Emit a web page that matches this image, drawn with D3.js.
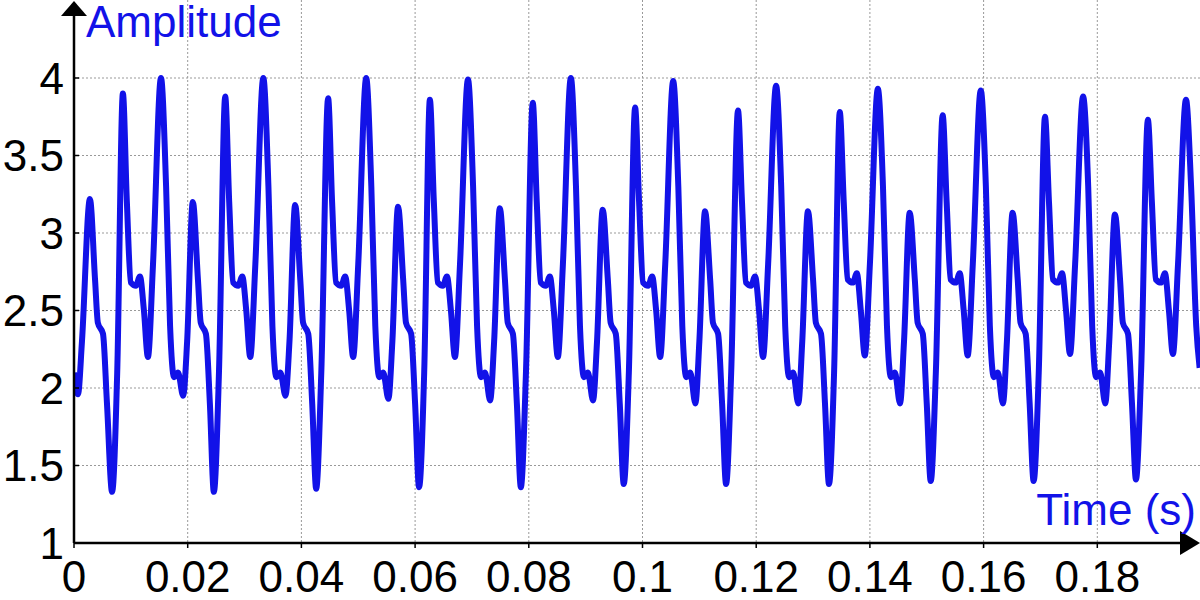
<!DOCTYPE html>
<html><head><meta charset="utf-8">
<script src="https://cdn.jsdelivr.net/npm/d3@7"></script>
<style>body{margin:0;background:#fff}svg{display:block;font-family:"Liberation Sans",Arial,sans-serif}</style>
</head><body><svg id="chart" width="1200" height="600"></svg>
<script>
// time in milliseconds
const timeMs = [
  0, 0.7, 1.4, 2.8, 3.7, 4.2, 5.1, 5.8, 6.7, 7.6,
  8.6, 9.3, 10.0, 10.9, 11.6, 12.3, 13.0, 13.9, 15.3, 16.2, 16.9, 17.6, 18.3, 19.2, 19.9, 20.9, 21.8, 22.3, 23.2, 23.9, 24.6, 25.5,
  26.6, 27.3, 28.0, 28.9, 29.6, 30.3, 31.0, 31.9, 33.3, 34.2, 34.9, 35.6, 36.3, 37.2, 37.9, 38.9, 39.8, 40.3, 41.2, 41.9, 42.6, 43.5,
  44.7, 45.4, 46.1, 47.0, 47.7, 48.4, 49.1, 50.0, 51.4, 52.3, 53.0, 53.7, 54.4, 55.3, 56.0, 57.0, 57.9, 58.4, 59.3, 60.0, 60.7, 61.6,
  62.6, 63.3, 64.0, 64.9, 65.6, 66.3, 67.0, 67.9, 69.3, 70.2, 70.9, 71.6, 72.3, 73.2, 73.9, 74.9, 75.8, 76.3, 77.2, 77.9, 78.6, 79.5,
  80.7, 81.4, 82.1, 83.0, 83.7, 84.4, 85.1, 86.0, 87.4, 88.3, 89.0, 89.7, 90.4, 91.3, 92.0, 93.0, 93.9, 94.4, 95.3, 96.0, 96.7, 97.6,
  98.7, 99.4, 100.1, 101.0, 101.7, 102.4, 103.1, 104.0, 105.4, 106.3, 107.0, 107.7, 108.4, 109.3, 110.0, 111.0, 111.9, 112.4, 113.3, 114.0, 114.7, 115.6,
  116.8, 117.5, 118.2, 119.1, 119.8, 120.5, 121.2, 122.1, 123.5, 124.4, 125.1, 125.8, 126.5, 127.4, 128.1, 129.1, 130.0, 130.5, 131.4, 132.1, 132.8, 133.7,
  134.7, 135.4, 136.1, 137.0, 137.7, 138.4, 139.1, 140.0, 141.4, 142.3, 143.0, 143.7, 144.4, 145.3, 146.0, 147.0, 147.9, 148.4, 149.3, 150.0, 150.7, 151.6,
  152.8, 153.5, 154.2, 155.1, 155.8, 156.5, 157.2, 158.1, 159.5, 160.4, 161.1, 161.8, 162.5, 163.4, 164.1, 165.1, 166.0, 166.5, 167.4, 168.1, 168.8, 169.7,
  170.8, 171.5, 172.2, 173.1, 173.8, 174.5, 175.2, 176.1, 177.5, 178.4, 179.1, 179.8, 180.5, 181.4, 182.1, 183.1, 184.0, 184.5, 185.4, 186.1, 186.8, 187.7,
  188.9, 189.6, 190.3, 191.2, 191.9, 192.6, 193.3, 194.2, 195.6, 196.5, 197.4, 198.0
];
const amplitude = [
  2.10, 1.96, 2.30, 3.22, 2.70, 2.42, 2.35, 1.90, 1.33, 2.10,
  3.90, 3.20, 2.68, 2.66, 2.72, 2.50, 2.20, 2.80, 4.00, 3.30, 2.40, 2.07, 2.10, 1.95, 2.30, 3.20, 2.70, 2.42, 2.35, 1.90, 1.33, 2.10,
  3.88, 3.20, 2.68, 2.66, 2.72, 2.50, 2.20, 2.80, 4.00, 3.30, 2.40, 2.07, 2.10, 1.95, 2.30, 3.18, 2.70, 2.42, 2.35, 1.90, 1.35, 2.10,
  3.87, 3.20, 2.68, 2.66, 2.72, 2.50, 2.20, 2.80, 4.00, 3.30, 2.40, 2.07, 2.10, 1.93, 2.30, 3.17, 2.70, 2.42, 2.35, 1.90, 1.36, 2.10,
  3.86, 3.20, 2.68, 2.66, 2.72, 2.50, 2.20, 2.80, 3.99, 3.30, 2.40, 2.07, 2.10, 1.92, 2.30, 3.16, 2.70, 2.42, 2.35, 1.90, 1.36, 2.10,
  3.84, 3.20, 2.68, 2.66, 2.72, 2.50, 2.20, 2.80, 4.00, 3.30, 2.40, 2.07, 2.10, 1.92, 2.30, 3.15, 2.70, 2.42, 2.35, 1.90, 1.38, 2.10,
  3.81, 3.20, 2.68, 2.66, 2.72, 2.50, 2.20, 2.80, 3.98, 3.30, 2.40, 2.07, 2.10, 1.90, 2.30, 3.14, 2.70, 2.42, 2.35, 1.90, 1.38, 2.10,
  3.79, 3.20, 2.68, 2.66, 2.72, 2.50, 2.20, 2.80, 3.95, 3.30, 2.40, 2.07, 2.10, 1.90, 2.30, 3.14, 2.70, 2.42, 2.35, 1.90, 1.38, 2.10,
  3.78, 3.20, 2.70, 2.68, 2.74, 2.50, 2.21, 2.80, 3.93, 3.30, 2.40, 2.07, 2.10, 1.90, 2.30, 3.13, 2.70, 2.42, 2.35, 1.90, 1.40, 2.10,
  3.76, 3.20, 2.70, 2.68, 2.74, 2.50, 2.21, 2.80, 3.92, 3.30, 2.40, 2.07, 2.10, 1.90, 2.30, 3.13, 2.70, 2.42, 2.35, 1.90, 1.40, 2.10,
  3.75, 3.20, 2.70, 2.68, 2.74, 2.50, 2.22, 2.80, 3.88, 3.30, 2.40, 2.07, 2.10, 1.90, 2.30, 3.12, 2.70, 2.42, 2.35, 1.90, 1.41, 2.10,
  3.73, 3.20, 2.70, 2.68, 2.74, 2.50, 2.22, 2.80, 3.86, 3.30, 2.40, 2.13
];
const xTicks = [0, 0.02, 0.04, 0.06, 0.08, 0.1, 0.12, 0.14, 0.16, 0.18];
const yTicks = [1, 1.5, 2, 2.5, 3, 3.5, 4];

const svg = d3.select('#chart');
const x = d3.scaleLinear().domain([0, 0.2]).range([74, 1211]);
const y = d3.scaleLinear().domain([1, 4]).range([543, 78]);
const blue = '#1212e8';

// grid
const gG = svg.append('g').attr('stroke', '#999').attr('stroke-dasharray', '2,2').attr('stroke-width', 1);
xTicks.slice(1).forEach(t => {
  gG.append('line').attr('x1', x(t)).attr('x2', x(t)).attr('y1', 0).attr('y2', y(1));
});
yTicks.slice(1).forEach(t => {
  gG.append('line').attr('x1', x(0)).attr('x2', 1200).attr('y1', y(t)).attr('y2', y(t));
});

// signal
svg.append('clipPath').attr('id', 'clip').append('rect')
  .attr('x', x(0)).attr('y', 0).attr('width', 1200 - x(0)).attr('height', y(1));
const data = timeMs.map((t, i) => ({ t: t / 1000, v: amplitude[i] }));
svg.append('path')
  .datum(data)
  .attr('clip-path', 'url(#clip)')
  .attr('fill', 'none')
  .attr('stroke', blue)
  .attr('stroke-width', 6)
  .attr('stroke-linejoin', 'round')
  .attr('d', d3.line().x(d => x(d.t)).y(d => y(d.v)).curve(d3.curveMonotoneX));

// axes with arrows
const gA = svg.append('g');
gA.append('line').attr('x1', x(0)).attr('x2', 1186).attr('y1', y(1)).attr('y2', y(1)).attr('stroke', '#000').attr('stroke-width', 2.5);
gA.append('path').attr('d', `M1200 ${y(1)}L1180 ${y(1) - 12}L1180 ${y(1) + 12}Z`).attr('fill', '#000');
gA.append('line').attr('x1', x(0)).attr('x2', x(0)).attr('y1', y(1)).attr('y2', 14).attr('stroke', '#000').attr('stroke-width', 2.5);
gA.append('path').attr('d', `M${x(0)} 1L${x(0) - 13} 16L${x(0) + 13} 16Z`).attr('fill', '#000');

xTicks.forEach(t => {
  gA.append('line').attr('x1', x(t)).attr('x2', x(t)).attr('y1', y(1)).attr('y2', y(1) + 5).attr('stroke', '#000').attr('stroke-width', 1.5);
  gA.append('text').attr('x', x(t)).attr('y', 592).attr('text-anchor', 'middle')
    .attr('font-size', 44).attr('fill', '#000').text(String(t));
});
yTicks.forEach(t => {
  gA.append('line').attr('x1', x(0)).attr('x2', x(0) + 5).attr('y1', y(t)).attr('y2', y(t)).attr('stroke', '#000').attr('stroke-width', 1.5);
  gA.append('text').attr('x', 64).attr('y', y(t)).attr('dy', '0.36em').attr('text-anchor', 'end')
    .attr('font-size', 44).attr('fill', '#000').text(String(t));
});

svg.append('text').attr('x', 86).attr('y', 37).attr('font-size', 44).attr('fill', blue).text('Amplitude');
svg.append('text').attr('x', 1196).attr('y', 525).attr('text-anchor', 'end').attr('font-size', 44).attr('fill', blue).text('Time (s)');
</script></body></html>
